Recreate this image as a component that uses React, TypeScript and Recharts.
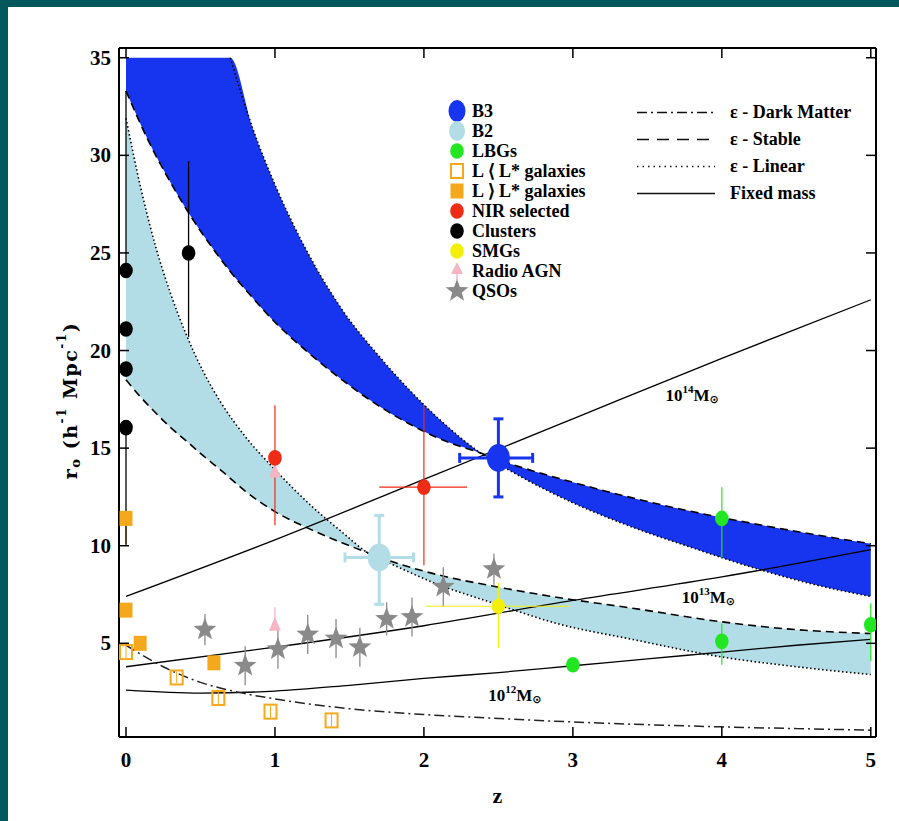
import React from "react";
import { ComposedChart, Area, Line, Scatter, XAxis, YAxis, ErrorBar, ReferenceDot } from "recharts";

const FONT = "'Liberation Serif', 'Times New Roman', serif";
const TEAL = "#03585c";

const B3_BLUE = "#1735ef";
const B2_BLUE = "#b3dde6";
const LBG_GREEN = "#22e622";
const ORANGE = "#f6a81c";
const NIR_RED = "#ee2b14";
const SMG_YELLOW = "#f4ef08";
const AGN_PINK = "#f5b6c4";
const QSO_GREY = "#8a8a8a";

// ---- model tracks, r0 against z ----
const b3Z = [0, 0.15, 0.3, 0.45, 0.6, 0.7, 0.85, 1.0, 1.2, 1.45, 1.7, 1.9, 2.1, 2.38, 2.6, 3.0, 3.4, 3.8, 4.2, 4.6, 5.0];
const b3Stable = [33.3, 30.75, 28.6, 26.7, 25.05, 24.05, 22.7, 21.45, 20.05, 18.5, 17.15, 16.25, 15.5, 14.75, 14.15, 13.25, 12.45, 11.75, 11.15, 10.6, 10.1];
const b3Linear = [35, 35, 35, 35, 35, 35, 31.4, 28.5, 25.3, 22.1, 19.7, 18.0, 16.5, 14.75, 13.75, 12.2, 10.95, 9.9, 8.9, 8.05, 7.4];

const b2Z = [0, 0.1, 0.2, 0.3, 0.4, 0.52, 0.64, 0.8, 1.0, 1.25, 1.45, 1.62, 1.8, 2.1, 2.45, 2.9, 3.4, 4.0, 4.5, 5.0];
const b2Stable = [18.5, 17.6, 16.8, 16.05, 15.4, 14.6, 13.85, 12.8, 11.75, 10.8, 10.15, 9.65, 9.15, 8.5, 7.95, 7.35, 6.8, 6.1, 5.7, 5.5];
const b2Linear = [31.9, 28.3, 25.3, 22.9, 20.9, 18.9, 17.3, 15.6, 13.9, 12.0, 10.7, 9.65, 9.0, 8.0, 7.1, 6.0, 5.2, 4.3, 3.8, 3.4];

const massZ = [0, 1, 2, 3, 4, 5];
const mass14 = [7.4, 10.3, 13.4, 16.5, 19.6, 22.6];
const mass13 = [3.8, 4.8, 5.9, 7.2, 8.4, 9.8];
const mass12Z = [0, 0.5, 1, 1.5, 2, 2.5, 3, 3.5, 4, 4.5, 5];
const mass12 = [2.6, 2.45, 2.55, 2.85, 3.2, 3.5, 3.85, 4.2, 4.55, 4.9, 5.2];

const dmZ = [0, 0.25, 0.5, 0.75, 1, 1.5, 2, 2.5, 3, 3.5, 4, 4.5, 5];
const darkMatter = [4.9, 3.8, 3.0, 2.5, 2.15, 1.65, 1.35, 1.15, 0.97, 0.83, 0.72, 0.63, 0.55];

// ---- measurements ----
const b3PtZ = [2.5];
const b3PtR = [14.5];
const b3PtEy = [[2.0, 2.0]];
const b3PtEx = [[0.26, 0.23]];

const b2PtZ = [1.7];
const b2PtR = [9.4];
const b2PtEy = [[2.4, 2.15]];
const b2PtEx = [[0.23, 0.23]];

const lbgZ = [3.0, 4.0, 4.0, 5.0];
const lbgR = [3.9, 11.4, 5.1, 5.95];
const lbgEy = [[0.35, 0.35], [2.0, 1.6], [1.2, 0.9], [1.85, 1.1]];

const faintZ = [0, 0.34, 0.62, 0.97, 1.38];
const faintR = [4.55, 3.25, 2.2, 1.5, 1.05];
const faintEy = [[0.3, 0.3], [0.3, 0.3], [0.3, 0.3], [0.3, 0.3], [0.3, 0.3]];

const brightZ = [0, 0, 0.095, 0.59];
const brightR = [11.4, 6.7, 5.0, 4.0];
const brightEy = [[1.4, 0], [0, 0], [0, 0], [0, 0]];

const nirZ = [1.0, 2.0];
const nirR = [14.5, 13.0];
const nirEy = [[3.45, 2.7], [4.0, 4.2]];
const nirEx = [[0, 0], [0.3, 0.29]];

const clusterZ = [0, 0, 0, 0, 0.42];
const clusterR = [24.1, 21.1, 19.05, 16.05, 25.0];
const clusterEy = [[0, 9.2], [0, 0], [0, 0], [6.0, 0], [4.3, 4.7]];

const smgZ = [2.5];
const smgR = [6.9];
const smgEy = [[2.15, 1.2]];
const smgEx = [[0.49, 0.48]];

const agnZ = [1.0, 1.0];
const agnR = [13.8, 5.95];
const agnEy = [[0, 0], [0, 0.9]];

const qsoZ = [0.53, 0.8, 1.02, 1.22, 1.41, 1.57, 1.75, 1.92, 2.13, 2.47];
const qsoR = [5.7, 3.85, 4.7, 5.45, 5.25, 4.8, 6.25, 6.35, 7.9, 8.8];
const qsoEy = [0.8, 1.0, 1.0, 1.0, 1.0, 1.0, 0.85, 1.0, 1.0, 0.8];

const xTicks = [0, 1, 2, 3, 4, 5];
const yTicks = [5, 10, 15, 20, 25, 30, 35];

const pointLegend = [
  { name: "B3", kind: "bigLeg", color: B3_BLUE },
  { name: "B2", kind: "midLeg", color: B2_BLUE },
  { name: "LBGs", kind: "dot", color: LBG_GREEN },
  { name: "L \u27E8 L* galaxies", kind: "open", color: ORANGE },
  { name: "L \u27E9 L* galaxies", kind: "square", color: ORANGE },
  { name: "NIR selected", kind: "dot", color: NIR_RED },
  { name: "Clusters", kind: "dot", color: "#000" },
  { name: "SMGs", kind: "dot", color: SMG_YELLOW },
  { name: "Radio AGN", kind: "arrow", color: AGN_PINK },
  { name: "QSOs", kind: "star", color: QSO_GREY },
];
const lineLegend = [
  { name: "\u03B5 - Dark Matter", dash: "10 4 2 4" },
  { name: "\u03B5 - Stable", dash: "12 8" },
  { name: "\u03B5 - Linear", dash: "1.5 4" },
  { name: "Fixed mass", dash: undefined },
];

// ---- tables built from the arrays ----
const band = (z: number[], s: number[], l: number[]) => z.map((v, i) => ({ z: v, stable: s[i], linear: l[i] }));
const curve = (z: number[], r: number[]) => z.map((v, i) => ({ z: v, r: r[i] }));
const pts = (z: number[], r: number[], ey?: any[], ex?: any[]) =>
  z.map((v, i) => ({ z: v, r: r[i], ey: ey ? ey[i] : [0, 0], ex: ex ? ex[i] : [0, 0] }));

const b3Band = band(b3Z, b3Stable, b3Linear);
const b2Band = band(b2Z, b2Stable, b2Linear);

function starPath(cx: number, cy: number, R: number, r: number) {
  let d = "";
  for (let i = 0; i < 10; i++) {
    const a = -Math.PI / 2 + (i * Math.PI) / 5;
    const rad = i % 2 === 0 ? R : r;
    d += (i === 0 ? "M" : "L") + (cx + rad * Math.cos(a)).toFixed(2) + "," + (cy + rad * Math.sin(a)).toFixed(2);
  }
  return d + "Z";
}

function Marker({ kind, color, cx, cy }: any) {
  switch (kind) {
    case "big":
      return <ellipse cx={cx} cy={cy} rx={11.5} ry={14} fill={color} />;
    case "bigLeg":
      return <ellipse cx={cx} cy={cy} rx={8.5} ry={11} fill={color} />;
    case "midLeg":
      return <ellipse cx={cx} cy={cy} rx={8} ry={10} fill={color} />;
    case "square":
      return <rect x={cx - 6.5} y={cy - 7.5} width={13} height={15} fill={color} />;
    case "open":
      return <rect x={cx - 6} y={cy - 7} width={12} height={14} fill="none" stroke={color} strokeWidth={2} />;
    case "star":
      return <path d={starPath(cx, cy, 12, 5)} fill={color} />;
    case "tri":
      return <path d={`M${cx},${cy - 8}L${cx + 6},${cy + 6}L${cx - 6},${cy + 6}Z`} fill={color} />;
    case "arrow":
      return (
        <g>
          <line x1={cx} x2={cx} y1={cy} y2={cy + 9} stroke={color} strokeWidth={1.5} />
          <path d={`M${cx},${cy - 9}L${cx + 6},${cy + 3}L${cx - 6},${cy + 3}Z`} fill={color} />
        </g>
      );
    default:
      return <ellipse cx={cx} cy={cy} rx={6.8} ry={7.8} fill={color} />;
  }
}

const shape = (kind: string, color: string) => (p: any) => <Marker kind={kind} color={color} cx={p.cx} cy={p.cy} />;

const tickText = { fontFamily: FONT, fontWeight: "bold" as const, fontSize: 21, fill: "#000" };

const BottomTick = (p: any) => (
  <g>
    <line x1={p.x} x2={p.x} y1={p.y - 23} y2={p.y - 33} stroke="#000" strokeWidth={1.5} />
    <text x={p.x} y={p.y} textAnchor="middle" dominantBaseline="central" {...tickText}>
      {p.payload.value}
    </text>
  </g>
);
const LeftTick = (p: any) => (
  <g>
    <line x1={p.x + 8} x2={p.x + 18} y1={p.y} y2={p.y} stroke="#000" strokeWidth={1.5} />
    <text x={p.x} y={p.y} textAnchor="end" dominantBaseline="central" {...tickText}>
      {p.payload.value}
    </text>
  </g>
);
const TopTick = (p: any) => <line x1={p.x} x2={p.x} y1={p.y} y2={p.y + 10} stroke="#000" strokeWidth={1.5} />;
const RightTick = (p: any) => <line x1={p.x} x2={p.x - 10} y1={p.y} y2={p.y} stroke="#000" strokeWidth={1.5} />;

const YLabel = ({ viewBox }: any) => {
  const x = viewBox.x + 11;
  const y = viewBox.y + viewBox.height / 2 + 8;
  return (
    <text transform={`translate(${x},${y}) rotate(-90)`} textAnchor="middle" dominantBaseline="central"
      fontFamily="'DejaVu Serif', serif" fontWeight="bold" fontSize={19} letterSpacing={1.5}>
      r<tspan fontSize={13} dy={5}>o</tspan>
      <tspan dy={-5}> (h</tspan>
      <tspan fontSize={12} dy={-8}>-1</tspan>
      <tspan dy={8}> Mpc</tspan>
      <tspan fontSize={12} dy={-8}>-1</tspan>
      <tspan dy={8}>)</tspan>
    </text>
  );
};
const XLabel = ({ viewBox }: any) => (
  <text x={viewBox.x + viewBox.width / 2} y={viewBox.y + 58} textAnchor="middle" dominantBaseline="central"
    fontFamily={FONT} fontWeight="bold" fontSize={22}>
    z
  </text>
);

const MassLabel = ({ viewBox, exp }: any) => {
  const cx = viewBox.x + viewBox.width / 2;
  const cy = viewBox.y + viewBox.height / 2;
  return (
    <text x={cx} y={cy} textAnchor="middle" dominantBaseline="central" fontFamily={FONT} fontWeight="bold" fontSize={17}>
      10<tspan fontSize={11} dy={-6}>{exp}</tspan>
      <tspan dy={6}>M</tspan>
      <tspan fontSize={11} dy={4} fontFamily="DejaVu Sans">{"\u2299"}</tspan>
    </text>
  );
};

function Legends() {
  const text: React.CSSProperties = { fontFamily: FONT, fontWeight: "bold", fontSize: 18, color: "#000", whiteSpace: "nowrap" };
  return (
    <>
      <div style={{ position: "absolute", left: 438, top: 94 }}>
        {pointLegend.map((it) => (
          <div key={it.name} style={{ display: "flex", alignItems: "center", height: 20 }}>
            <svg width={22} height={20} style={{ overflow: "visible" }}>
              <Marker kind={it.kind} color={it.color} cx={11} cy={10} />
            </svg>
            <span style={{ ...text, marginLeft: 4, lineHeight: "20px" }}>{it.name}</span>
          </div>
        ))}
      </div>
      <div style={{ position: "absolute", left: 629, top: 91.5 }}>
        {lineLegend.map((it) => (
          <div key={it.name} style={{ display: "flex", alignItems: "center", height: 27 }}>
            <svg width={78} height={27}>
              <line x1={0} x2={78} y1={13.5} y2={13.5} stroke="#111" strokeWidth={1.6} strokeDasharray={it.dash} />
            </svg>
            <span style={{ ...text, marginLeft: 15, lineHeight: "27px" }}>{it.name}</span>
          </div>
        ))}
      </div>
    </>
  );
}

export default function App() {
  const edge = { dot: false, isAnimationActive: false, stroke: "#000", strokeWidth: 1.6, type: "monotone" as const };
  return (
    <div style={{
      position: "fixed", left: 0, top: 0, width: 899, height: 821, boxSizing: "border-box",
      background: "#fff", borderTop: `7px solid ${TEAL}`, borderLeft: `8px solid ${TEAL}`, overflow: "hidden",
    }}>
      <div style={{ position: "absolute", left: 0, top: 0, width: 891, height: 814 }}>
        <ComposedChart width={891} height={814} margin={{ top: 40, right: 22, bottom: 44, left: 51 }}>
          <Area data={b3Band} dataKey={(d: any) => [d.stable, d.linear]} type="monotone" fill={B3_BLUE} fillOpacity={1} stroke="none" isAnimationActive={false} />
          <Area data={b2Band} dataKey={(d: any) => [d.stable, d.linear]} type="monotone" fill={B2_BLUE} fillOpacity={1} stroke="none" isAnimationActive={false} />
          <Line data={b3Band} dataKey="stable" strokeDasharray="8 5" {...edge} />
          <Line data={b3Band} dataKey={(d: any) => (d.z >= 0.7 ? d.linear : null)} strokeDasharray="1.5 2.5" {...edge} />
          <Line data={b2Band} dataKey="stable" strokeDasharray="8 5" {...edge} />
          <Line data={b2Band} dataKey="linear" strokeDasharray="1.5 2.5" {...edge} />
          <Line data={curve(massZ, mass14)} dataKey="r" {...edge} strokeWidth={1.3} />
          <Line data={curve(massZ, mass13)} dataKey="r" {...edge} strokeWidth={1.3} />
          <Line data={curve(mass12Z, mass12)} dataKey="r" {...edge} strokeWidth={1.3} />
          <Line data={curve(dmZ, darkMatter)} dataKey="r" {...edge} stroke="#222" strokeDasharray="10 4 2 4" strokeWidth={1.5} />

          <Scatter data={pts(faintZ, faintR, faintEy)} dataKey="r" shape={shape("open", ORANGE)} isAnimationActive={false}>
            <ErrorBar dataKey="ey" direction="y" width={0} stroke={ORANGE} strokeWidth={1} />
          </Scatter>
          <Scatter data={pts(brightZ, brightR, brightEy)} dataKey="r" shape={shape("square", ORANGE)} isAnimationActive={false}>
            <ErrorBar dataKey="ey" direction="y" width={0} stroke={ORANGE} strokeWidth={1.3} />
          </Scatter>
          <Scatter data={pts(clusterZ, clusterR, clusterEy)} dataKey="r" shape={shape("dot", "#000")} isAnimationActive={false}>
            <ErrorBar dataKey="ey" direction="y" width={0} stroke="#000" strokeWidth={1.3} />
          </Scatter>
          <Scatter data={pts(qsoZ, qsoR, qsoEy.map((e) => [e, e]))} dataKey="r" shape={shape("star", QSO_GREY)} isAnimationActive={false}>
            <ErrorBar dataKey="ey" direction="y" width={0} stroke={QSO_GREY} strokeWidth={1.3} />
          </Scatter>
          <Scatter data={pts(agnZ, agnR, agnEy)} dataKey="r" shape={shape("tri", AGN_PINK)} isAnimationActive={false}>
            <ErrorBar dataKey="ey" direction="y" width={0} stroke={AGN_PINK} strokeWidth={1.3} />
          </Scatter>
          <Scatter data={pts(nirZ, nirR, nirEy, nirEx)} dataKey="r" shape={shape("dot", NIR_RED)} isAnimationActive={false}>
            <ErrorBar dataKey="ey" direction="y" width={0} stroke={NIR_RED} strokeWidth={1.2} />
            <ErrorBar dataKey="ex" direction="x" width={0} stroke={NIR_RED} strokeWidth={1.2} />
          </Scatter>
          <Scatter data={pts(lbgZ, lbgR, lbgEy)} dataKey="r" shape={shape("dot", LBG_GREEN)} isAnimationActive={false}>
            <ErrorBar dataKey="ey" direction="y" width={0} stroke={LBG_GREEN} strokeWidth={1.2} />
          </Scatter>
          <Scatter data={pts(smgZ, smgR, smgEy, smgEx)} dataKey="r" shape={shape("dot", SMG_YELLOW)} isAnimationActive={false}>
            <ErrorBar dataKey="ey" direction="y" width={0} stroke={SMG_YELLOW} strokeWidth={1.2} />
            <ErrorBar dataKey="ex" direction="x" width={0} stroke={SMG_YELLOW} strokeWidth={1.2} />
          </Scatter>
          <Scatter data={pts(b2PtZ, b2PtR, b2PtEy, b2PtEx)} dataKey="r" shape={shape("big", B2_BLUE)} isAnimationActive={false}>
            <ErrorBar dataKey="ey" direction="y" width={5} stroke={B2_BLUE} strokeWidth={3} />
            <ErrorBar dataKey="ex" direction="x" width={5} stroke={B2_BLUE} strokeWidth={3} />
          </Scatter>
          <Scatter data={pts(b3PtZ, b3PtR, b3PtEy, b3PtEx)} dataKey="r" shape={shape("big", B3_BLUE)} isAnimationActive={false}>
            <ErrorBar dataKey="ey" direction="y" width={5} stroke={B3_BLUE} strokeWidth={3} />
            <ErrorBar dataKey="ex" direction="x" width={5} stroke={B3_BLUE} strokeWidth={3} />
          </Scatter>

          <ReferenceDot x={3.8} y={17.7} r={0} fill="none" stroke="none" label={<MassLabel exp="14" />} />
          <ReferenceDot x={3.91} y={7.35} r={0} fill="none" stroke="none" label={<MassLabel exp="13" />} />
          <ReferenceDot x={2.61} y={2.34} r={0} fill="none" stroke="none" label={<MassLabel exp="12" />} />

          <XAxis dataKey="z" type="number" domain={[-0.047, 5.035]} allowDataOverflow ticks={xTicks} interval={0}
            height={40} tickSize={0} tickMargin={23} tickLine={false} tick={BottomTick}
            axisLine={{ stroke: "#000", strokeWidth: 2 }} label={<XLabel />} />
          <XAxis xAxisId="top" orientation="top" dataKey="z" type="number" domain={[-0.047, 5.035]} allowDataOverflow
            ticks={xTicks} interval={0} height={1} tickSize={0} tickMargin={0} tickLine={false} tick={TopTick}
            axisLine={{ stroke: "#000", strokeWidth: 2 }} />
          <YAxis type="number" domain={[0.2, 35.5]} allowDataOverflow ticks={yTicks} interval={0} width={60}
            tickSize={0} tickMargin={8} tickLine={false} tick={LeftTick}
            axisLine={{ stroke: "#000", strokeWidth: 2 }} label={<YLabel />} />
          <YAxis yAxisId="right" orientation="right" type="number" domain={[0.2, 35.5]} allowDataOverflow ticks={yTicks}
            interval={0} width={1} tickSize={0} tickMargin={0} tickLine={false} tick={RightTick}
            axisLine={{ stroke: "#000", strokeWidth: 2 }} />
        </ComposedChart>
        <Legends />
      </div>
    </div>
  );
}
